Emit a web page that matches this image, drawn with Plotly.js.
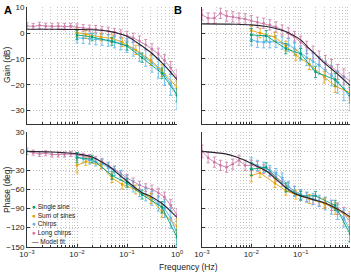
<!DOCTYPE html>
<html>
<head>
<meta charset="utf-8">
<script src="https://cdn.plot.ly/plotly-3.0.1.min.js"></script>
<style>
  html, body { margin: 0; padding: 0; background: #fff; }
  #chart { width: 351px; height: 273px; }
</style>
</head>
<body>
<div id="chart"></div>
<script>
// ---- Frequency grids (Hz) ----
const fLong   = [0.001, 0.00133, 0.00178, 0.00237, 0.00316, 0.00422, 0.00562, 0.0075,
                 0.01, 0.0133, 0.0178, 0.0237, 0.0316, 0.0422, 0.0562, 0.075,
                 0.1, 0.133, 0.178, 0.237, 0.316, 0.422, 0.562, 0.75, 1.0];
const fChirp  = [0.01, 0.0133, 0.0178, 0.0237, 0.0316, 0.0422, 0.0562, 0.075,
                 0.1, 0.133, 0.178, 0.237, 0.316, 0.422, 0.562, 0.75, 1.0];
const fSingle = [0.01, 0.02, 0.05, 0.1, 0.2, 0.5, 1.0];
const fSum    = [0.01, 0.015, 0.03, 0.05, 0.08, 0.15, 0.3, 0.5, 1.0];
const fModel  = [0.001, 0.003, 0.005, 0.01, 0.02, 0.03, 0.05, 0.07, 0.1, 0.15, 0.2, 0.3, 0.5, 0.7, 1.0];

// ---- Panel A: gain (dB) ----
const aGainLong   = [2.8, 2.6, 3.0, 2.7, 2.6, 2.7, 2.5, 2.6, 2.3, 2.0, 1.8, 1.6, 1.2, 0.8, 0.3, -0.3,
                     -1.0, -1.8, -3.0, -4.5, -6.2, -8.0, -10.5, -13.5, -17.0];
const aGainLongErr= [1.2, 1.2, 1.2, 1.2, 1.2, 1.2, 1.2, 1.2, 1.3, 1.3, 1.3, 1.4, 1.4, 1.5, 1.5, 1.6,
                     1.7, 1.8, 1.9, 2.0, 2.1, 2.2, 2.3, 2.5, 2.8];
const aGainChirp  = [-1.8, -2.0, -2.2, -2.4, -2.5, -2.8, -3.3, -4.0, -4.8, -6.0, -7.8, -9.5, -11.5,
                     -13.5, -16.0, -19.5, -24.0];
const aGainChirpErr=[2.0, 2.0, 2.0, 2.1, 2.2, 2.3, 2.4, 2.5, 2.7, 2.9, 3.1, 3.3, 3.6, 3.9, 4.2, 4.6, 5.5];
const aGainSingle = [-0.7, -1.5, -3.2, -5.0, -9.5, -15.5, -24.0];
const aGainSingleErr=[1.8, 1.5, 1.5, 1.6, 1.8, 2.0, 2.5];
const aGainSum    = [0.2, -0.5, -1.5, -2.0, -3.5, -6.5, -10.5, -14.5, -21.0];
const aGainSumErr = [1.5, 1.5, 1.5, 1.6, 1.7, 1.8, 2.0, 2.2, 2.5];
const aGainModel  = [1.5, 1.5, 1.45, 1.4, 1.3, 1.1, 0.5, -0.2, -1.2, -3.3, -5.0, -7.5, -11.5, -14.5, -18.0];

// ---- Panel A: phase (deg) ----
const aPhaseLong   = [0, -2, -4, -3, -5, -5, -5, -4, -6, -7, -9, -12, -16, -22, -28, -35,
                      -42, -48, -53, -57, -60, -65, -72, -85, -100];
const aPhaseLongErr= [5, 4, 4, 4, 4, 4, 4, 4, 4, 4, 4, 4, 5, 5, 5, 5, 6, 6, 6, 6, 7, 7, 8, 9, 10];
const aPhaseChirp  = [-8, -12, -14, -17, -20, -25, -31, -38, -46, -55, -62, -68, -74, -82, -90, -105, -130];
const aPhaseChirpErr=[6, 6, 6, 6, 7, 7, 7, 8, 8, 9, 9, 10, 11, 12, 14, 16, 20];
const aPhaseSingle = [-10, -12, -38, -50, -68, -88, -135];
const aPhaseSingleErr=[8, 6, 6, 7, 7, 9, 12];
const aPhaseSum    = [-22, -16, -22, -42, -52, -60, -74, -95, -118];
const aPhaseSumErr = [12, 6, 6, 7, 7, 7, 8, 9, 12];
const aPhaseModel  = [0, -1, -2, -4, -9, -16, -27, -37, -47, -58, -65, -71, -82, -92, -104];

// ---- Panel B: gain (dB) ----
const bGainLong   = [7.0, 5.8, 5.8, 7.7, 6.6, 6.3, 5.8, 5.5, 4.8, 4.2, 3.8, 3.2, 2.4, 1.2, 0.0, -1.5,
                     -3.5, -5.5, -7.5, -9.5, -11.3, -13.0, -15.0, -16.8, -18.5];
const bGainLongErr= [2.0, 2.0, 2.0, 2.0, 2.0, 2.0, 2.0, 2.0, 2.0, 2.0, 2.0, 2.0, 2.0, 2.0, 2.1, 2.2,
                     2.3, 2.4, 2.5, 2.6, 2.7, 2.8, 2.9, 3.0, 3.2];
const bGainChirp  = [-2.5, -3.3, -3.5, -3.5, -3.3, -3.8, -4.5, -6.0, -7.7, -9.5, -11.0, -12.5, -14.5,
                     -16.5, -19.0, -21.5, -25.0];
const bGainChirpErr=[2.2, 2.2, 2.2, 2.2, 2.3, 2.4, 2.5, 2.6, 2.8, 3.0, 3.2, 3.4, 3.6, 3.9, 4.2, 4.6, 5.0];
const bGainSingle = [-0.7, -1.0, -6.0, -8.0, -15.0, -18.0, -24.0];
const bGainSingleErr=[2.5, 2.0, 2.0, 2.0, 2.2, 2.5, 3.0];
const bGainSum    = [1.0, 0.0, -1.5, -5.0, -8.5, -12.0, -17.0, -20.5, -23.0];
const bGainSumErr = [1.8, 1.8, 1.8, 1.9, 2.0, 2.1, 2.3, 2.5, 2.8];
const bGainModel  = [3.6, 3.5, 3.45, 3.2, 2.6, 1.9, 0.6, -0.8, -2.6, -6.0, -8.2, -11.5, -15.0, -17.5, -20.2];

// ---- Panel B: phase (deg) ----
const bPhaseLong   = [0, -10, -17, -22, -25, -20, -14, -22, -22, -24, -28, -33, -40, -48, -56, -62,
                      -68, -72, -76, -79, -81, -85, -90, -98, -110];
const bPhaseLongErr= [10, 8, 8, 8, 8, 8, 8, 8, 8, 8, 7, 7, 7, 7, 7, 7, 7, 7, 7, 7, 8, 8, 9, 10, 12];
const bPhaseChirp  = [-18, -22, -25, -30, -35, -42, -55, -63, -68, -72, -75, -78, -82, -88, -95, -105, -125];
const bPhaseChirpErr=[8, 8, 8, 8, 8, 8, 8, 8, 8, 8, 9, 9, 10, 11, 12, 14, 18];
const bPhaseSingle = [-28, -25, -57, -70, -70, -85, -130];
const bPhaseSingleErr=[10, 7, 7, 7, 7, 8, 12];
const bPhaseSum    = [-38, -34, -50, -62, -68, -75, -82, -90, -105];
const bPhaseSumErr = [10, 7, 7, 7, 7, 7, 8, 9, 10];
const bPhaseModel  = [0, -4, -9, -19, -31, -42, -57, -65, -70, -74, -77, -81, -89, -95, -103];

// ---- Series styling ----
const seriesNames = ['Single sine', 'Sum of sines', 'Chirps', 'Long chirps', 'Model fit'];
const seriesColors = ['#009E73', '#E69F00', '#56B4E9', '#CC79A7', '#2b2230'];

function dataTrace(x, y, err, color, xa, ya) {
  return {
    x: x, y: y, xaxis: xa, yaxis: ya, type: 'scatter', mode: 'lines+markers',
    line: {color: color, width: 0.9},
    marker: {color: color, size: 2.6},
    error_y: {type: 'data', array: err, visible: true, color: color, thickness: 0.8, width: 1.6},
    showlegend: false, hoverinfo: 'skip'
  };
}
function modelTrace(y, xa, ya) {
  return {
    x: fModel, y: y, xaxis: xa, yaxis: ya, type: 'scatter', mode: 'lines',
    line: {color: seriesColors[4], width: 1.1, shape: 'spline', smoothing: 0.8},
    showlegend: false, hoverinfo: 'skip'
  };
}
function panelTraces(xa, ya, d) {
  return [
    dataTrace(fLong,   d.long,   d.longErr,   seriesColors[3], xa, ya),
    dataTrace(fChirp,  d.chirp,  d.chirpErr,  seriesColors[2], xa, ya),
    dataTrace(fSum,    d.sum,    d.sumErr,    seriesColors[1], xa, ya),
    dataTrace(fSingle, d.single, d.singleErr, seriesColors[0], xa, ya),
    modelTrace(d.model, xa, ya)
  ];
}

const traces = [].concat(
  panelTraces('x', 'y', {long: aGainLong, longErr: aGainLongErr, chirp: aGainChirp, chirpErr: aGainChirpErr,
    sum: aGainSum, sumErr: aGainSumErr, single: aGainSingle, singleErr: aGainSingleErr, model: aGainModel}),
  panelTraces('x2', 'y2', {long: bGainLong, longErr: bGainLongErr, chirp: bGainChirp, chirpErr: bGainChirpErr,
    sum: bGainSum, sumErr: bGainSumErr, single: bGainSingle, singleErr: bGainSingleErr, model: bGainModel}),
  panelTraces('x3', 'y3', {long: aPhaseLong, longErr: aPhaseLongErr, chirp: aPhaseChirp, chirpErr: aPhaseChirpErr,
    sum: aPhaseSum, sumErr: aPhaseSumErr, single: aPhaseSingle, singleErr: aPhaseSingleErr, model: aPhaseModel}),
  panelTraces('x4', 'y4', {long: bPhaseLong, longErr: bPhaseLongErr, chirp: bPhaseChirp, chirpErr: bPhaseChirpErr,
    sum: bPhaseSum, sumErr: bPhaseSumErr, single: bPhaseSingle, singleErr: bPhaseSingleErr, model: bPhaseModel})
);

// ---- Axes ----
const W = 351, H = 273;
const xDomA = [27 / W, 177 / W];
const xDomB = [202 / W, 350 / W];
const yDomGain  = [1 - 123.6 / H, 1 - 7.3 / H];
const yDomPhase = [1 - 246.7 / H, 1 - 132.3 / H];

const freqTickVals = [0.001, 0.01, 0.1, 1];
const freqTickText = ['10<sup>\u22123</sup>', '10<sup>\u22122</sup>', '10<sup>\u22121</sup>', '10<sup>0</sup>'];
const tickFont = {family: 'Liberation Sans, Arial, sans-serif', size: 8, color: '#222'};
const gridDash = '1px,2px';
const gridMajor = '#ababab';
const gridMinor = '#b9b9b9';

function xAxis(domain, anchor, labels) {
  return {
    type: 'log', domain: domain, anchor: anchor, range: [-3, 0],
    tickvals: freqTickVals, ticktext: freqTickText, showticklabels: labels,
    ticks: 'inside', ticklen: 3, tickcolor: '#333', tickfont: tickFont,
    showline: true, linecolor: '#333', linewidth: 1, zeroline: false,
    showgrid: true, gridcolor: gridMajor, griddash: gridDash, gridwidth: 0.8,
    minor: {tickvals: [0.002,0.003,0.004,0.005,0.006,0.007,0.008,0.009,
                       0.02,0.03,0.04,0.05,0.06,0.07,0.08,0.09,
                       0.2,0.3,0.4,0.5,0.6,0.7,0.8,0.9],
            ticks: 'inside', ticklen: 1.5, tickcolor: '#333',
            showgrid: true, gridcolor: gridMinor, griddash: gridDash, gridwidth: 0.8},
    fixedrange: true
  };
}
function yAxis(domain, anchor, range, dtick, labels) {
  return {
    domain: domain, anchor: anchor, range: range, dtick: dtick, tick0: 0,
    showticklabels: labels, ticks: 'inside', ticklen: 3, tickcolor: '#333', tickfont: tickFont,
    showline: true, linecolor: '#333', linewidth: 1, zeroline: false,
    showgrid: true, gridcolor: gridMajor, griddash: gridDash, gridwidth: 0.8,
    fixedrange: true
  };
}

const legendFont = {family: 'Liberation Sans, Arial, sans-serif', size: 6.5, color: '#222'};
const legendRows = [207, 215.5, 224, 232.5, 241];
const legendGlyphs = ['\u25CF', '\u25CF', '\u25CF', '\u25CF', '\u2014'];

const annotations = [
  {text: '<b>A</b>', x: 2 / W, y: 1 - 2 / H, xanchor: 'left', yanchor: 'top',
   font: {family: 'Liberation Sans, Arial, sans-serif', size: 11, color: '#000'}},
  {text: '<b>B</b>', x: 172 / W, y: 1 - 2 / H, xanchor: 'left', yanchor: 'top',
   font: {family: 'Liberation Sans, Arial, sans-serif', size: 11, color: '#000'}},
  {text: 'Gain (dB)', x: 7 / W, y: 1 - 65 / H, textangle: -90, xanchor: 'center', yanchor: 'middle',
   font: {family: 'Liberation Sans, Arial, sans-serif', size: 8.5, color: '#222'}},
  {text: 'Phase (deg)', x: 7 / W, y: 1 - 190 / H, textangle: -90, xanchor: 'center', yanchor: 'middle',
   font: {family: 'Liberation Sans, Arial, sans-serif', size: 8.5, color: '#222'}},
  {text: 'Frequency (Hz)', x: 188 / W, y: 1 - 267 / H, xanchor: 'center', yanchor: 'middle',
   font: {family: 'Liberation Sans, Arial, sans-serif', size: 8.5, color: '#222'}}
].map(a => Object.assign({xref: 'paper', yref: 'paper', showarrow: false}, a));

seriesNames.forEach((name, i) => {
  annotations.push({
    xref: 'paper', yref: 'paper', showarrow: false,
    x: 30 / W, y: 1 - legendRows[i] / H, xanchor: 'left', yanchor: 'middle',
    text: '<span style="color:' + seriesColors[i] + '">' + legendGlyphs[i] + '</span> ' + name,
    font: legendFont
  });
});

const layout = {
  width: W, height: H,
  margin: {l: 0, r: 0, t: 0, b: 0, pad: 0},
  paper_bgcolor: '#fff', plot_bgcolor: '#fff',
  showlegend: false,
  font: {family: 'Liberation Sans, Arial, sans-serif', size: 8, color: '#222'},
  xaxis:  xAxis(xDomA, 'y',  false),
  xaxis2: xAxis(xDomB, 'y2', false),
  xaxis3: xAxis(xDomA, 'y3', true),
  xaxis4: xAxis(xDomB, 'y4', true),
  yaxis:  yAxis(yDomGain,  'x',  [-35, 10], 10, true),
  yaxis2: yAxis(yDomGain,  'x2', [-35, 10], 10, false),
  yaxis3: yAxis(yDomPhase, 'x3', [-150, 30], 30, true),
  yaxis4: yAxis(yDomPhase, 'x4', [-150, 30], 30, false),
  annotations: annotations
};

Plotly.newPlot('chart', traces, layout, {staticPlot: true, displayModeBar: false});
</script>
</body>
</html>
